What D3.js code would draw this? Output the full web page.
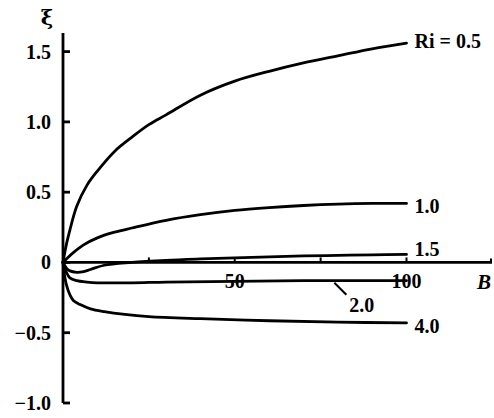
<!DOCTYPE html>
<html>
<head>
<meta charset="utf-8">
<script src="https://cdn.jsdelivr.net/npm/d3@7"></script>
<style>
  body { margin: 0; background: #fff; }
  svg text { font-family: "Liberation Serif", "DejaVu Serif", serif; font-weight: bold; fill: #000; }
  .curve { fill: none; stroke: #000; stroke-width: 2.8px; stroke-linejoin: round; stroke-linecap: round; }
  .ax { stroke: #000; stroke-width: 2.8px; fill: none; }
</style>
</head>
<body>
<svg id="chart"></svg>
<script>
  // values
  var b05 = [0, 1, 2, 4, 7, 10, 15, 20, 25, 30, 40, 50, 60, 70, 80, 90, 100];
  var xi05 = [0, 0.13, 0.23, 0.40, 0.55, 0.65, 0.79, 0.89, 0.98, 1.05, 1.19, 1.29, 1.36, 1.42, 1.47, 1.52, 1.56];
  var b10 = [0, 1, 3, 6, 10, 15, 20, 30, 40, 50, 60, 70, 80, 90, 100];
  var xi10 = [0, 0.025, 0.07, 0.125, 0.175, 0.215, 0.245, 0.30, 0.34, 0.37, 0.39, 0.405, 0.415, 0.42, 0.42];
  var b15 = [0, 1, 2, 4, 6, 8, 12, 20, 30, 40, 50, 60, 70, 80, 90, 100];
  var xi15 = [0, -0.04, -0.06, -0.07, -0.065, -0.05, -0.02, 0, 0.015, 0.025, 0.033, 0.04, 0.046, 0.05, 0.054, 0.057];
  var b20 = [0, 1, 2, 4, 7, 10, 20, 30, 50, 70, 100];
  var xi20 = [0, -0.07, -0.11, -0.13, -0.14, -0.145, -0.145, -0.14, -0.135, -0.13, -0.13];
  var b40 = [0, 0.5, 1, 2, 3, 5, 8, 12, 18, 25, 40, 60, 80, 100];
  var xi40 = [0, -0.1, -0.16, -0.23, -0.27, -0.3, -0.33, -0.35, -0.37, -0.385, -0.4, -0.415, -0.425, -0.43];
  var riNames = ['Ri = 0.5', '1.0', '1.5', '2.0', '4.0'];
  var yTicks = [1.5, 1.0, 0.5, 0, -0.5, -1.0];
  var yTickLabels = ['1.5', '1.0', '0.5', '0', '\u22120.5', '\u22121.0'];
  var xTicks = [25, 50, 75, 100];
  var xTickLabels = ['50', '100'];

  var width = 494;
  var height = 418;
  var svg = d3.select('#chart').attr('width', width).attr('height', height);

  var x = d3.scaleLinear().domain([0, 100]).range([63, 406.5]);
  var y = d3.scaleLinear().domain([-1, 1.5]).range([403, 51.6]);

  // y axis
  svg.append('line').attr('class', 'ax')
    .attr('x1', x(0)).attr('x2', x(0)).attr('y1', 33).attr('y2', y(-1));
  svg.append('g').selectAll('line').data(yTicks).enter().append('line')
    .attr('class', 'ax')
    .attr('x1', x(0)).attr('x2', x(0) + 7)
    .attr('y1', (d) => y(d)).attr('y2', (d) => y(d));
  svg.append('g').selectAll('text').data(yTicks).enter().append('text')
    .attr('x', 51).attr('y', (d) => y(d) + 7)
    .attr('text-anchor', 'end').style('font-size', '20px')
    .text((d, i) => yTickLabels[i]);
  svg.append('text').attr('x', 47).attr('y', 25)
    .attr('text-anchor', 'middle')
    .style('font-family', '"DejaVu Serif", serif').style('font-size', '21px')
    .text('\u03be');

  // x axis
  svg.append('line').attr('class', 'ax')
    .attr('x1', x(0)).attr('x2', 492).attr('y1', y(0)).attr('y2', y(0));
  svg.append('line').attr('class', 'ax').style('stroke-width', '2px')
    .attr('x1', 491).attr('x2', 491).attr('y1', y(0)).attr('y2', y(0) - 4);
  svg.append('g').selectAll('line').data(xTicks).enter().append('line')
    .attr('class', 'ax').style('stroke-width', '2px')
    .attr('x1', (d) => x(d)).attr('x2', (d) => x(d))
    .attr('y1', y(0)).attr('y2', y(0) - 5);
  svg.append('g').selectAll('text').data([50, 100]).enter().append('text')
    .attr('x', (d) => x(d)).attr('y', 288)
    .attr('text-anchor', 'middle').style('font-size', '20px')
    .text((d, i) => xTickLabels[i]);
  svg.append('text').attr('x', 484).attr('y', 289)
    .attr('text-anchor', 'middle').style('font-size', '21px').style('font-style', 'italic')
    .text('B');

  // curves
  var series = [[b05, xi05], [b10, xi10], [b15, xi15], [b20, xi20], [b40, xi40]];
  var line = d3.line().curve(d3.curveCatmullRom.alpha(0.5))
    .x((d) => x(d[0])).y((d) => y(d[1]));
  series.forEach((s) => {
    var pts = s[0].map((b, i) => [b, s[1][i]]);
    svg.append('path').attr('class', 'curve').attr('d', line(pts));
  });

  // end labels
  var labelDy = [5, 10, 2, 0, 10];
  series.forEach((s, i) => {
    if (i == 3) return;
    var n = s[0].length - 1;
    svg.append('text')
      .attr('x', x(s[0][n]) + 8).attr('y', y(s[1][n]) + labelDy[i])
      .style('font-size', '20px')
      .text(riNames[i]);
  });
  // 2.0 label with leader
  var lb = 79;
  svg.append('line').attr('class', 'ax').style('stroke-width', '2px')
    .attr('x1', x(lb)).attr('y1', y(-0.13) + 2)
    .attr('x2', x(lb) + 12).attr('y2', y(-0.13) + 14);
  svg.append('text').attr('x', x(lb) + 15).attr('y', 312)
    .style('font-size', '20px').text(riNames[3]);
</script>
</body>
</html>
